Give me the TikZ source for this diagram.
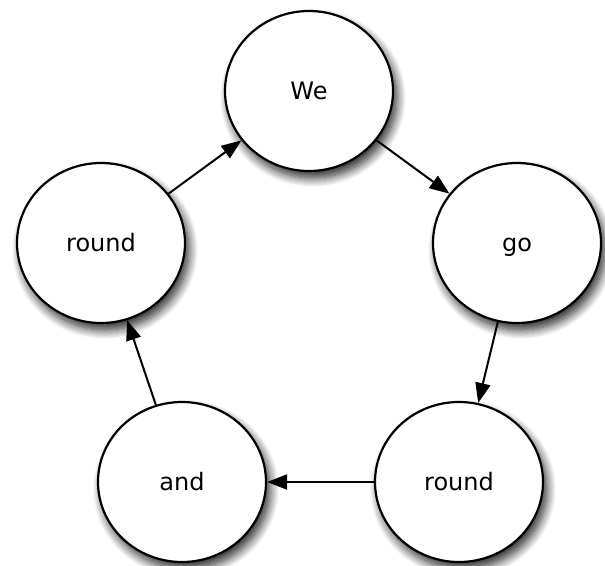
\documentclass[tikz,border=0pt]{standalone}
\usepackage{fontspec}
\setmainfont{DejaVu Sans}
\usetikzlibrary{shapes.geometric,shadows.blur,arrows.meta}
\begin{document}
\begin{tikzpicture}[x=1pt,y=-1pt,
  state/.style={ellipse, draw, line width=2.2pt, fill=white,
    minimum width=168pt, minimum height=160pt, inner sep=0pt,
    font=\fontsize{24}{28}\selectfont, text height=17.8pt, text depth=0pt,
    blur shadow={shadow xshift=4pt, shadow yshift=-7pt, shadow blur radius=9pt, shadow blur steps=12, shadow opacity=85}},
  link/.style={line width=2pt, -{Triangle[length=20pt,width=15pt]}}]
\useasboundingbox (0,0) rectangle (605,565);
\node[state] (we) at (309,91) {We};
\node[state] (go) at (517,243) {go};
\node[state] (r2) at (459,482) {round};
\node[state] (and) at (182,482) {and};
\node[state] (r1) at (101,243) {round};
\draw[link] (r1) -- (we);
\draw[link] (we) -- (go);
\draw[link] (go) -- (r2);
\draw[link] (r2) -- (and);
\draw[link] (and) -- (r1);
\end{tikzpicture}
\end{document}
